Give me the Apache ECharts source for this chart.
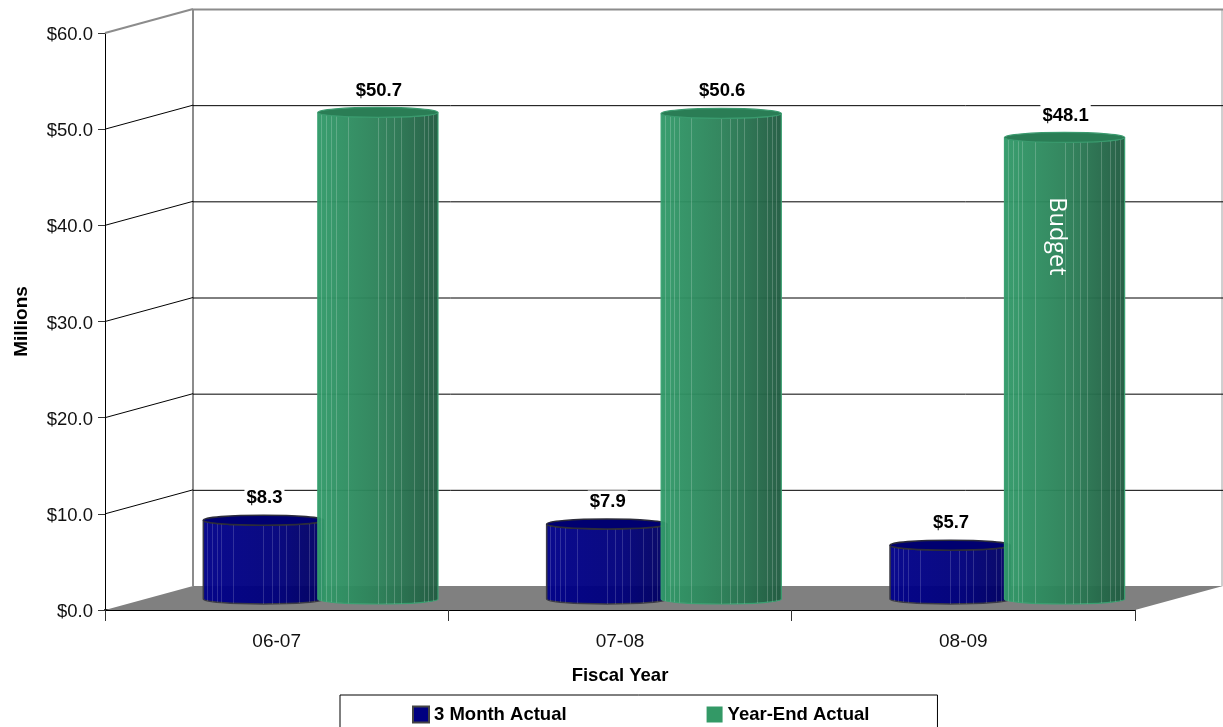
<!DOCTYPE html>
<html><head><meta charset="utf-8">
<style>html,body{margin:0;padding:0;background:#fff}#c{width:1223px;height:727px}</style>
<script src="https://cdn.jsdelivr.net/npm/echarts@6/dist/echarts.min.js"></script>
</head><body><div id="c"></div>
<script>
const categories = ['06-07', '07-08', '08-09'];
const threeMonthActual = [8.3, 7.9, 5.7];
const yearEndActual = [50.7, 50.6, 48.1];
const barNotes = ['', '', 'Budget'];
const wallTicks = [0, 10, 20, 30, 40, 50, 60];

const FONT = '"Liberation Sans",Arial,sans-serif';
const DEPTH_X = 88, DEPTH_Y = 24;
const STRIPES = [.03,.07,.11,.15,.25,.5,.57,.63,.69,.8,.88,.92,.96];

function wallItem(params, api) {
  const v = api.value(0);
  const cs = params.coordSys;
  const y = api.coord([0, v])[1];
  const L = cs.x, R = cs.x + cs.width;
  const kids = [];
  const top = v === 60;
  const stroke = top ? '#8c8c8c' : '#000';
  const w = top ? 2 : 1;
  if (v === 0) {
    kids.push({type:'polygon', shape:{points:[[L,y],[L+DEPTH_X,y-DEPTH_Y],[R+DEPTH_X,y-DEPTH_Y],[R,y]]},
      style:{fill:'#808080'}});
    const yTop = api.coord([0, 60])[1];
    kids.push({type:'line', shape:{x1:L+DEPTH_X,y1:yTop-DEPTH_Y,x2:L+DEPTH_X,y2:y-DEPTH_Y}, style:{stroke:'#8c8c8c',lineWidth:2}});
    kids.push({type:'line', shape:{x1:R+DEPTH_X-1,y1:yTop-DEPTH_Y,x2:R+DEPTH_X-1,y2:y-DEPTH_Y}, style:{stroke:'#a0a0a0',lineWidth:1}});
  } else {
    kids.push({type:'line', shape:{x1:L+DEPTH_X,y1:y-DEPTH_Y+.5,x2:R+DEPTH_X,y2:y-DEPTH_Y+.5}, style:{stroke,lineWidth:w}});
    kids.push({type:'line', shape:{x1:L,y1:y,x2:L+DEPTH_X,y2:y-DEPTH_Y}, style:{stroke,lineWidth:w}});
  }
  return {type:'group', children:kids};
}

function cylinder(sign, pal, notes) {
  return function (params, api) {
    const i = api.value(0), v = api.value(1);
    const band = api.size([1, 0])[0];
    const hw = band * 0.175, ry = 5;
    const top = api.coord([i, v]), base = api.coord([i, 0]);
    const cx = top[0] + sign * band / 6 + DEPTH_X / 2;
    const yT = top[1] - DEPTH_Y / 2 + 2, yB = base[1] - DEPTH_Y / 2 + 1;
    const x0 = cx - hw, x1 = cx + hw;
    const body = `M${x0} ${yT}L${x0} ${yB}A${hw} ${ry} 0 0 0 ${x1} ${yB}L${x1} ${yT}A${hw} ${ry} 0 0 1 ${x0} ${yT}Z`;
    const grad = {type:'linear',x:0,y:0,x2:1,y2:0,colorStops:pal.body};
    const kids = [{type:'path', shape:{pathData:body}, style:{fill:grad,stroke:pal.edge,lineWidth:pal.edgeW,opacity:.96}}];
    STRIPES.forEach(f => {
      const sx = Math.round(x0 + f * 2 * hw) + .5;
      const d = (sx - cx) / hw;
      const dy = ry * Math.sqrt(Math.max(0, 1 - d * d));
      kids.push({type:'line', shape:{x1:sx,y1:yT+dy,x2:sx,y2:yB+dy}, style:{stroke:pal.stripe,lineWidth:1}});
    });
    kids.push({type:'ellipse', shape:{cx,cy:yT,rx:hw,ry}, style:{fill:pal.top,stroke:pal.topEdge,lineWidth:pal.edgeW}});
    kids.push({type:'text', x:cx + 1, y:yT-22, z2:20,
      style:{text:'$'+v.toFixed(1), fill:'#000', font:'bold 18.5px '+FONT, align:'center', verticalAlign:'middle',
             backgroundColor:'#fff', padding:[2,2,2,2]}});
    const note = notes && notes[i];
    if (note) kids.push({type:'text', x:cx-8, y:yT+99, rotation:-Math.PI/2,
      style:{text:note, fill:'#fff', font:'23.5px "Open Sans",sans-serif', align:'center', verticalAlign:'middle'}});
    return {type:'group', children:kids};
  };
}

const bluePal = {body:[{offset:0,color:'#00008a'},{offset:.6,color:'#00007c'},{offset:1,color:'#000060'}],
  edge:'#3a3a44', edgeW:1.6, top:'#000070', topEdge:'#2c2c3a', stripe:'rgba(255,255,255,.16)'};
const greenPal = {body:[{offset:0,color:'#319a69'},{offset:.5,color:'#2c8259'},{offset:1,color:'#205a40'}],
  edge:'#38a070', edgeW:1.2, top:'#2a7d55', topEdge:'#3a9a6e', stripe:'rgba(255,255,255,.2)'};

const chart = echarts.init(document.getElementById('c'), null, {renderer:'canvas'});
chart.setOption({
  animation:false,
  backgroundColor:'#fff',
  textStyle:{fontFamily:FONT},
  grid:{left:105,right:88,top:33,bottom:117,containLabel:false,outerBoundsMode:'none'},
  legend:{
    left:340, top:695, data:['3 Month Actual','Year-End Actual'], selectedMode:false,
    itemWidth:16, itemHeight:16, itemGap:140, icon:'rect', borderColor:'#000', borderWidth:1,
    padding:[10,68,20,72],
    textStyle:{fontFamily:FONT,fontSize:18.5,fontWeight:'bold',color:'#000'}
  },
  xAxis:{type:'category',data:categories,
    name:'Fiscal Year',nameLocation:'middle',nameGap:56,
    nameTextStyle:{fontFamily:FONT,fontSize:18.5,fontWeight:'bold',color:'#000'},
    axisLine:{show:true,lineStyle:{color:'#000',width:2}},
    axisTick:{show:true,alignWithLabel:false,length:11,lineStyle:{color:'#333',width:1}},
    axisLabel:{fontFamily:FONT,fontSize:19,color:'#111',margin:22}},
  yAxis:{type:'value',min:0,max:60,interval:10,
    name:'Millions',nameLocation:'middle',nameGap:74,nameRotate:90,
    nameTextStyle:{fontFamily:FONT,fontSize:19,fontWeight:'bold',color:'#000'},
    axisLine:{show:true,lineStyle:{color:'#000',width:1}},axisTick:{show:true,length:7,lineStyle:{color:'#333'}},
    splitLine:{show:false},
    axisLabel:{fontFamily:FONT,fontSize:18.5,color:'#111',margin:12,verticalAlign:'top',lineHeight:4,formatter:v=>'$'+v.toFixed(1)}},
  series:[
    {type:'custom',name:'wall',silent:true,z:1,clip:false,data:wallTicks.map(v=>[v]),encode:{x:-1,y:0},renderItem:wallItem},
    {type:'custom',name:'3 Month Actual',z:3,clip:false,itemStyle:{color:'#000080',borderColor:'#444',borderWidth:1},
      data:threeMonthActual.map((v,i)=>[i,v]),encode:{x:0,y:1},renderItem:cylinder(-1,bluePal)},
    {type:'custom',name:'Year-End Actual',z:4,clip:false,itemStyle:{color:'#339966'},
      data:yearEndActual.map((v,i)=>[i,v]),encode:{x:0,y:1},renderItem:cylinder(1,greenPal,barNotes)}
  ]
});
</script></body></html>
